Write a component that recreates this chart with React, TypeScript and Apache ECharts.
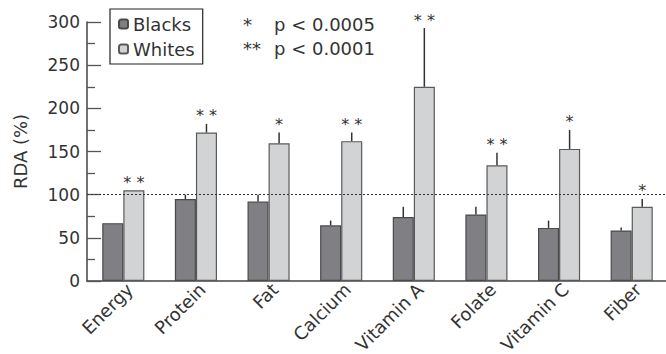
import React, { useEffect, useRef } from "react";
import * as echarts from "echarts";

const categories = ["Energy", "Protein", "Fat", "Calcium", "Vitamin A", "Folate", "Vitamin C", "Fiber"];
const blacks = [67, 95, 92, 64.5, 74, 77, 61.5, 58.5];
const blacksSD = [0, 5, 8, 5.5, 12, 9, 8.5, 3.5];
const whites = [105, 172, 159.5, 162, 225, 134, 153, 86];
const whitesSD = [0, 10, 12.5, 10, 68, 14.5, 22, 9];
const signif = ["* *", "* *", "*", "* *", "* *", "* *", "*", "*"];
const yTicks = [0, 50, 100, 150, 200, 250, 300];

const FONT = "DejaVu Sans";

export default function App() {
  const ref = useRef<HTMLDivElement>(null);
  useEffect(() => {
    if (!ref.current) return;
    const chart = echarts.init(ref.current, undefined, { renderer: "svg" });
    const errData = categories.map((_, i) => [
      i,
      blacks[i],
      blacks[i] + blacksSD[i],
      whites[i],
      whites[i] + whitesSD[i],
    ]);
    const option: any = {
      animation: false,
      backgroundColor: "#ffffff",
      textStyle: { fontFamily: FONT },
      grid: { left: 87, right: -2, top: 22, bottom: 73, containLabel: false, outerBoundsMode: "none" },
      legend: {
        orient: "vertical",
        left: 110,
        top: 9,
        padding: [6, 8, 6, 8],
        itemGap: 7,
        itemWidth: 9,
        itemHeight: 9,
        borderColor: "#222",
        borderWidth: 1.2,
        textStyle: { fontFamily: FONT, fontSize: 18, color: "#333" },
        data: ["Blacks", "Whites"],
      },
      xAxis: {
        type: "category",
        data: categories,
        axisLine: { lineStyle: { color: "#444", width: 1.5 } },
        axisTick: { inside: true, length: 16, lineStyle: { color: "#444", width: 1.3 } },
        axisLabel: {
          rotate: 45,
          margin: -1,
          verticalAlign: "top",
          fontFamily: FONT,
          fontSize: 18,
          color: "#333",
        },
      },
      yAxis: {
        type: "value",
        min: 0,
        max: 300,
        interval: 50,
        name: "RDA (%)",
        nameLocation: "middle",
        nameGap: 58,
        nameTextStyle: { fontFamily: FONT, fontSize: 18, color: "#333" },
        axisLine: { show: true, lineStyle: { color: "#444", width: 1.5 } },
        axisTick: { show: true, inside: true, length: 14, lineStyle: { color: "#555", width: 1.3 } },
        minorTick: { show: true, splitNumber: 2, length: 8, lineStyle: { color: "#555", width: 1.3 } },
        splitLine: { show: false },
        axisLabel: {
          fontFamily: FONT,
          fontSize: 17,
          color: "#333",
          margin: 7,
          formatter: (v: number) => (yTicks.includes(v) ? String(v) : ""),
        },
      },
      series: [
        {
          name: "Blacks",
          type: "bar",
          data: blacks,
          barWidth: "29%",
          barGap: "0%",
          itemStyle: { color: "#808084", borderColor: "#4a4a4a", borderWidth: 1.2 },
          markLine: {
            silent: true,
            symbol: "none",
            label: { show: false },
            lineStyle: { type: [2, 2], color: "#333", width: 1.2 },
            data: [{ yAxis: 100 }],
          },
        },
        {
          name: "Whites",
          type: "bar",
          data: whites,
          barWidth: "29%",
          barGap: "0%",
          itemStyle: { color: "#d2d3d5", borderColor: "#5a5a5a", borderWidth: 1.2 },
        },
        {
          type: "custom",
          z: 5,
          clip: false,
          silent: true,
          data: errData,
          encode: { x: 0, y: 4 },
          renderItem: (params: any, api: any) => {
            const i = api.value(0);
            const band = api.size([1, 0])[0];
            const off = band * 0.145;
            const c = api.coord([i, 0]);
            const bTop = api.coord([i, api.value(1)])[1];
            const bErr = api.coord([i, api.value(2)])[1];
            const wTop = api.coord([i, api.value(3)])[1];
            const wErr = api.coord([i, api.value(4)])[1];
            const children: any[] = [];
            if (bErr < bTop - 0.5) {
              children.push({
                type: "line",
                shape: { x1: c[0] - off, y1: bTop, x2: c[0] - off, y2: bErr },
                style: { stroke: "#333", lineWidth: 1.5 },
              });
            }
            if (wErr < wTop - 0.5) {
              children.push({
                type: "line",
                shape: { x1: c[0] + off, y1: wTop, x2: c[0] + off, y2: wErr },
                style: { stroke: "#333", lineWidth: 1.5 },
              });
            }
            children.push({
              type: "text",
              x: c[0] + off,
              y: wErr - 8,
              style: {
                text: signif[params.dataIndex],
                fontFamily: FONT,
                fontSize: 16,
                fill: "#333",
                align: "center",
                verticalAlign: "middle",
              },
            });
            return { type: "group", children };
          },
        },
      ],
      graphic: [
        { type: "text", x: 243, y: 24, style: { text: "*", fontFamily: FONT, fontSize: 18, fill: "#333", verticalAlign: "middle" } },
        { type: "text", x: 274, y: 24, style: { text: "p < 0.0005", fontFamily: FONT, fontSize: 18, fill: "#333", verticalAlign: "middle" } },
        { type: "text", x: 243, y: 48, style: { text: "**", fontFamily: FONT, fontSize: 18, fill: "#333", verticalAlign: "middle" } },
        { type: "text", x: 274, y: 48, style: { text: "p < 0.0001", fontFamily: FONT, fontSize: 18, fill: "#333", verticalAlign: "middle" } },
      ],
    };
    chart.setOption(option);
    return () => chart.dispose();
  }, []);
  return (
    <div
      ref={ref}
      style={{ position: "fixed", left: 0, top: 0, width: 666, height: 354 }}
    />
  );
}
